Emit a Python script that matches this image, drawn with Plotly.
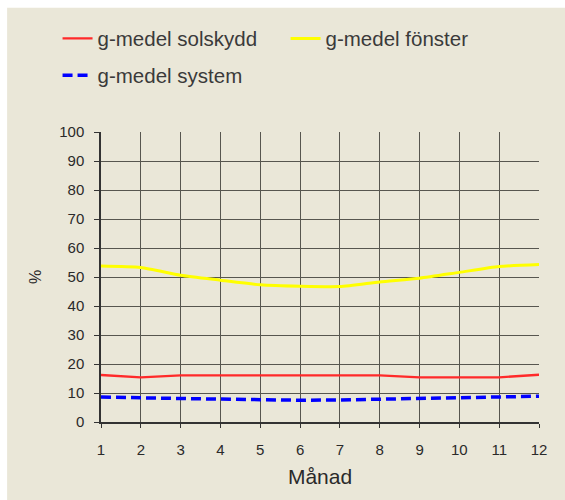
import plotly.graph_objects as go

months = [1, 2, 3, 4, 5, 6, 7, 8, 9, 10, 11, 12]
g_solskydd = [16.2, 15.4, 16.1, 16.1, 16.1, 16.1, 16.1, 16.1, 15.4, 15.4, 15.4, 16.3]
g_fonster = [53.8, 53.3, 50.6, 48.9, 47.3, 46.8, 46.7, 48.3, 49.6, 51.6, 53.6, 54.3]
g_system = [8.6, 8.5, 8.1, 7.9, 7.6, 7.5, 7.6, 7.8, 8.2, 8.2, 8.5, 8.9]

y_ticks = list(range(0, 101, 10))
x_title = "Månad"
y_title = "%"

BG = "#EAE7D8"
GRID = "#57564f"
FONT = "Liberation Sans, Arial, sans-serif"

W, H = 565, 500
ML, MR, MT, MB = 101, 25.5, 132, 78.3
PW, PH = W - ML - MR, H - MT - MB

fig = go.Figure()
fig.add_trace(go.Scatter(x=months, y=g_solskydd, mode="lines", name="g-medel solskydd",
                         line=dict(color="#ff2a2a", width=2.3), legend="legend"))
fig.add_trace(go.Scatter(x=months, y=g_fonster, mode="lines", name="g-medel fönster",
                         line=dict(color="#ffff00", width=3, shape="spline", smoothing=0.6),
                         legend="legend"))
fig.add_trace(go.Scatter(x=months, y=g_system, mode="lines", name="g-medel system",
                         line=dict(color="#0000ff", width=3.5, dash="10px,5px"), legend="legend2"))

# white outer frame strips (top and left) of the original picture
px = lambda v: (v - ML) / PW
py = lambda v: (H - MB - v) / PH
fig.add_shape(type="rect", xref="paper", yref="paper", x0=px(-2), x1=px(7), y0=py(H + 2), y1=py(-2),
              fillcolor="white", line_width=0, layer="above")
fig.add_shape(type="rect", xref="paper", yref="paper", x0=px(-2), x1=px(W + 2), y0=py(8), y1=py(-2),
              fillcolor="white", line_width=0, layer="above")

fig.update_layout(
    width=W, height=H,
    paper_bgcolor=BG, plot_bgcolor=BG,
    margin=dict(l=ML, r=MR, t=MT, b=MB),
    font=dict(family=FONT, color="#2a2a2a", size=12),
    legend=dict(orientation="h", x=-0.0992, y=1.322, xanchor="left", yanchor="middle",
                entrywidth=183, bgcolor="rgba(0,0,0,0)", font=dict(size=20.5, color="#3a3a3a"),
                itemwidth=30),
    legend2=dict(orientation="h", x=-0.0992, y=1.195, xanchor="left", yanchor="middle",
                 bgcolor="rgba(0,0,0,0)", font=dict(size=20.5, color="#3a3a3a"), itemwidth=30),
    showlegend=True,
)
fig.update_xaxes(range=[1, 12], tickvals=months, showgrid=True, gridcolor=GRID, gridwidth=1.3,
                 showline=True, linecolor="#333", linewidth=1.5, mirror=False,
                 ticks="outside", ticklen=4, tickcolor="#333", ticklabelstandoff=9,
                 tickfont=dict(size=15), zeroline=False,
                 title=dict(text=x_title, font=dict(size=21), standoff=13))
fig.update_yaxes(range=[0, 100], tickvals=y_ticks, showgrid=True, gridcolor=GRID, gridwidth=1.3,
                 showline=True, linecolor="#333", linewidth=1.5,
                 ticks="outside", ticklen=5, tickcolor="#333", ticklabelstandoff=7,
                 tickfont=dict(size=15), zeroline=False,
                 title=dict(text=y_title, font=dict(size=16), standoff=14))

fig.write_html("out.html", config={"displayModeBar": False},
               post_script="document.body.style.margin='0';document.body.style.overflow='hidden';")
